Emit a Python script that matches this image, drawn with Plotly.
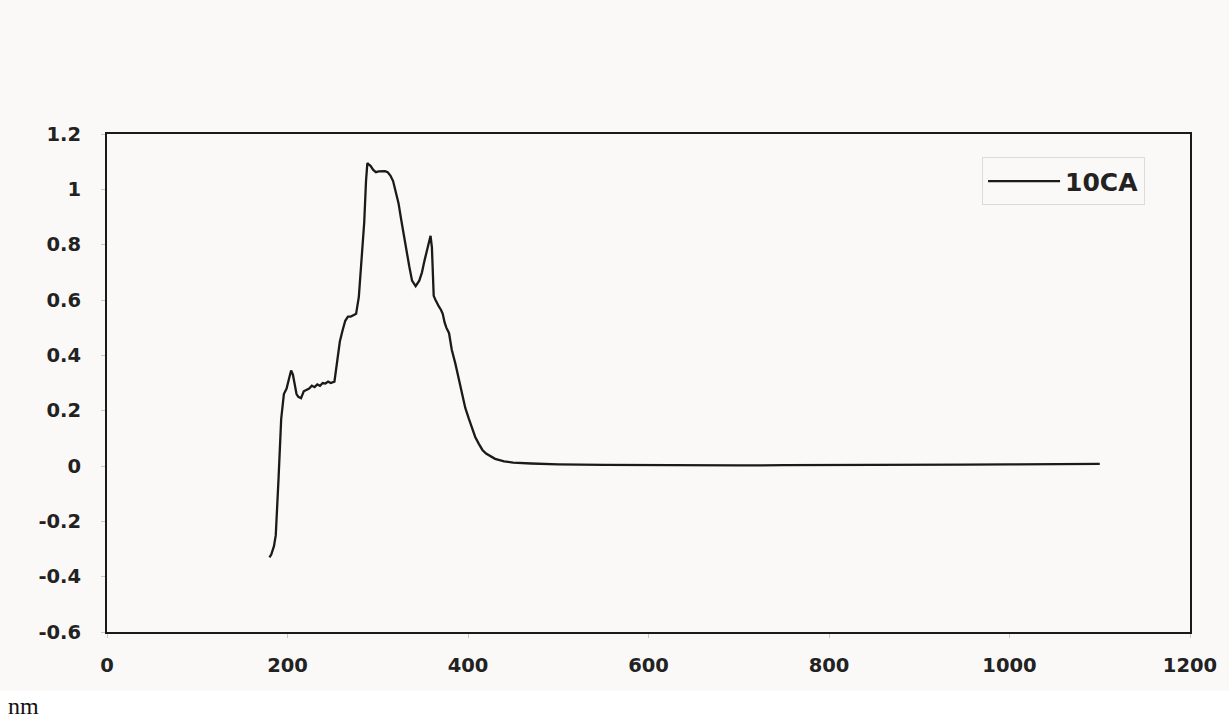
import plotly.graph_objects as go

# UV-Vis absorbance spectrum of sample 10CA
wavelength_nm = [
    180, 182, 185, 187, 190, 193, 196, 199, 202, 204, 206, 208, 210, 212, 215,
    218, 221, 224, 227, 230, 233, 236, 239, 242, 245, 248, 252, 255, 258, 261,
    264, 267, 270, 273, 276, 279, 282, 285, 287, 288.5, 290, 292, 295, 298, 301,
    305, 308, 311, 314, 317, 320, 323, 326, 329, 332, 335, 338, 342, 346, 349,
    352, 355, 357, 358.5, 360, 361, 362, 364, 366, 368, 370, 372, 374, 376, 379,
    382, 386, 390, 394, 397, 401, 404, 408, 412, 416, 420, 425, 430, 440, 450,
    470, 500, 550, 600, 650, 700, 750, 800, 850, 900, 950, 1000, 1050, 1100,
]
absorbance = [
    -0.33, -0.32, -0.29, -0.25, -0.05, 0.17, 0.26, 0.28, 0.32, 0.345, 0.33, 0.29, 0.26, 0.25, 0.245,
    0.27, 0.275, 0.28, 0.29, 0.285, 0.295, 0.29, 0.30, 0.298, 0.305, 0.30, 0.305, 0.37, 0.45, 0.49,
    0.525, 0.54, 0.54, 0.545, 0.55, 0.61, 0.74, 0.88, 1.03, 1.095, 1.09, 1.085, 1.07, 1.062, 1.065,
    1.067, 1.066, 1.062, 1.05, 1.03, 0.995, 0.95, 0.89, 0.83, 0.77, 0.72, 0.67, 0.65, 0.67, 0.70,
    0.745, 0.79, 0.815, 0.832, 0.79, 0.68, 0.615, 0.60, 0.585, 0.575, 0.565, 0.55, 0.52, 0.50, 0.48,
    0.42, 0.37, 0.31, 0.25, 0.21, 0.17, 0.14, 0.105, 0.08, 0.058, 0.045, 0.034, 0.026, 0.017, 0.012,
    0.009, 0.006, 0.004, 0.003, 0.001, 0.002, 0.003, 0.003, 0.004, 0.005, 0.005, 0.006, 0.007, 0.008,
]

x_ticks = [0, 200, 400, 600, 800, 1000, 1200]
y_ticks = [-0.6, -0.4, -0.2, 0, 0.2, 0.4, 0.6, 0.8, 1, 1.2]
y_tick_text = ["-0.6", "-0.4", "-0.2", "0", "0.2", "0.4", "0.6", "0.8", "1", "1.2"]

paper_color = "#fbf9f7"
ink = "#1a1a1a"
label_font = dict(family="DejaVu Sans", size=19.5, color="#222222", weight="bold")

fig = go.Figure()
fig.add_trace(go.Scatter(
    x=wavelength_nm,
    y=absorbance,
    mode="lines",
    name="10CA",
    line=dict(color=ink, width=2.3),
))

fig.update_layout(
    width=1229,
    height=719,
    margin=dict(l=107, r=35, t=134, b=87),
    paper_bgcolor=paper_color,
    plot_bgcolor=paper_color,
    showlegend=True,
    legend=dict(
        x=0.808, y=0.953, xanchor="left", yanchor="top",
        bgcolor=paper_color,
        bordercolor="#dddbd9", borderwidth=1,
        font=dict(family="DejaVu Sans", size=25, color="#222222", weight="bold"),
        itemwidth=72,
    ),
    xaxis=dict(
        range=[0, 1200],
        tickvals=x_ticks,
        ticktext=[str(v) for v in x_ticks],
        showgrid=False, zeroline=False,
        showline=True, linecolor=ink, linewidth=2, mirror=True,
        ticks="outside", ticklen=4, tickcolor="#c8c8c8", tickwidth=1,
        tickfont=label_font,
        ticklabelstandoff=11,
    ),
    yaxis=dict(
        range=[-0.6, 1.2],
        tickvals=y_ticks,
        ticktext=y_tick_text,
        showgrid=False, zeroline=False,
        showline=True, linecolor=ink, linewidth=2, mirror=True,
        ticks="outside", ticklen=4, tickcolor="#c8c8c8", tickwidth=1,
        tickfont=label_font,
        ticklabelstandoff=16,
    ),
    shapes=[
        # plain white strip under the chart page
        dict(type="rect", xref="paper", yref="paper", layer="below",
             x0=-0.2, x1=1.1, y0=-0.175, y1=-0.118,
             fillcolor="white", line=dict(width=0)),
    ],
    annotations=[
        dict(text="nm", xref="paper", yref="paper", x=-0.093, y=-0.1787,
             xanchor="left", yanchor="bottom", showarrow=False,
             font=dict(family="Liberation Serif", size=24, color="#111111")),
    ],
)

fig.write_html("out.html")
